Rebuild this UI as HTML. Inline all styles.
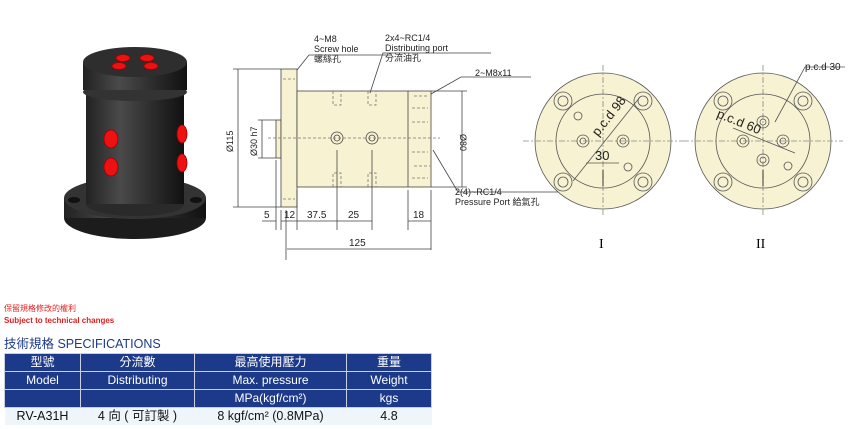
<!DOCTYPE html>
<html><head><meta charset="utf-8"><style>
body{margin:0;width:860px;height:429px;background:#fff;overflow:hidden;position:relative;font-family:"Liberation Sans","Noto Sans CJK TC",sans-serif}
svg{position:absolute;left:0;top:0}
.t{position:absolute;white-space:nowrap}
table{position:absolute;left:4px;top:353px;border-collapse:collapse;font-size:12px}
td{text-align:center;padding:0;height:17px;line-height:17px}
tr.h td{background:#1d3a8a;color:#fff;border:1px solid #c8cfe0}
tr.d td{background:#eef5fb;color:#111;font-size:12.5px}
</style></head><body>
<svg width="860" height="429" viewBox="0 0 860 429" font-family="Liberation Sans, Noto Sans CJK TC, sans-serif">
<defs>
<linearGradient id="cyl" x1="0" x2="1"><stop offset="0" stop-color="#222"/><stop offset=".35" stop-color="#4a4a4a"/><stop offset=".7" stop-color="#2a2a2a"/><stop offset="1" stop-color="#111"/></linearGradient>
</defs>
<!-- photo -->
<ellipse cx="135" cy="218" rx="71" ry="21" fill="#1c1c1c"/>
<rect x="64" y="198" width="142" height="20" fill="url(#cyl)"/>
<ellipse cx="135" cy="198" rx="71" ry="21" fill="#333"/>
<ellipse cx="74" cy="200" rx="6" ry="3" fill="#111"/><ellipse cx="196" cy="200" rx="6" ry="3" fill="#111"/>
<ellipse cx="135" cy="204" rx="49" ry="12" fill="#2a2a2a"/>
<rect x="86" y="92" width="98" height="112" fill="url(#cyl)"/>
<ellipse cx="135" cy="92" rx="52" ry="9" fill="#333"/>
<rect x="83" y="62" width="104" height="28" fill="url(#cyl)"/>
<ellipse cx="135" cy="62" rx="52" ry="15" fill="#2e2e2e"/>
<g fill="#e11" stroke="#900" stroke-width=".8">
<ellipse cx="123" cy="58" rx="7" ry="3.5"/><ellipse cx="147" cy="58" rx="7" ry="3.5"/><ellipse cx="119" cy="66" rx="7" ry="3.5"/><ellipse cx="151" cy="66" rx="7" ry="3.5"/>
<ellipse cx="111" cy="139" rx="7" ry="9"/><ellipse cx="111" cy="167" rx="7" ry="9"/><ellipse cx="182" cy="134" rx="5" ry="9"/><ellipse cx="182" cy="163" rx="5" ry="9"/>
</g>
<!-- side view -->
<g stroke="#444" stroke-width=".8" fill="none">
<rect x="276" y="120" width="5" height="38" fill="#f7f2d2"/>
<rect x="281" y="69" width="16" height="138" fill="#f7f2d2"/>
<rect x="297" y="91" width="134" height="96" fill="#f7f2d2"/>
<line x1="408" y1="91" x2="408" y2="187"/>
<circle cx="337" cy="138" r="6"/><circle cx="337" cy="138" r="3"/>
<circle cx="372" cy="138" r="6"/><circle cx="372" cy="138" r="3"/>
<g stroke-dasharray="3,2" stroke="#777">
<line x1="268" y1="138" x2="440" y2="138"/>
<path d="M333 91v14h8v-14M368 91v14h8v-14M333 187v-14h8v14M368 187v-14h8v14"/>
<path d="M414 96h14M412 108h16M412 122h16M412 152h16M414 166h16M412 178h16"/>
<path d="M283 79h12M283 199h12"/>
</g>
<path d="M238 69v138M233 69h48M233 207h48M262 120v38M258 120h18M258 158h18M462 91v96M431 91h36M431 187h36"/>
<path d="M276 160v70M281 210v20M297 190v40M337 150v80M372 150v80M408 190v40M431 190v60M286 210v50"/>
<path d="M262 221h14M281 221h16M297 221h40M337 221h35M408 221h23M287 249h144"/>
<path d="M297 70l12-15h82M370 93l13-40h108M431 94l30-17h70M433 150l25 42h100"/>
</g>
<g font-size="9" fill="#222">
<text x="314" y="42">4~M8</text><text x="314" y="52">Screw hole</text><text x="314" y="62">螺絲孔</text>
<text x="385" y="41">2x4~RC1/4</text><text x="385" y="51">Distributing port</text><text x="385" y="61">分流油孔</text>
<text x="475" y="76">2~M8x11</text>
<text x="455" y="195">2(4)~RC1/4</text><text x="455" y="205">Pressure Port  給氣孔</text>
<text transform="translate(233,152) rotate(-90)">Ø115</text>
<text transform="translate(257,156) rotate(-90)">Ø30 h7</text>
<text transform="translate(460,134) rotate(90)">Ø80</text>
<text x="264" y="218" font-size="10">5</text><text x="284" y="218" font-size="10">12</text>
<text x="307" y="218" font-size="10">37.5</text><text x="348" y="218" font-size="10">25</text>
<text x="413" y="218" font-size="10">18</text><text x="349" y="246" font-size="10">125</text>
</g>
<g stroke="#555" stroke-width=".8" fill="none">
<circle cx="603" cy="141" r="68" fill="#f7f2d2"/>
<circle cx="603" cy="141" r="47"/>
<circle cx="763" cy="141" r="68" fill="#f7f2d2"/>
<circle cx="763" cy="141" r="47"/>
<g stroke-dasharray="6,2,2,2" stroke="#888">
<path d="M523 141h160M603 65v150M683 141h160M763 65v150"/>
</g>
<g id="h">
<circle cx="563" cy="101" r="9"/><circle cx="563" cy="101" r="5"/>
<circle cx="643" cy="101" r="9"/><circle cx="643" cy="101" r="5"/>
<circle cx="563" cy="182" r="9"/><circle cx="563" cy="182" r="5"/>
<circle cx="643" cy="182" r="9"/><circle cx="643" cy="182" r="5"/>
</g>
<use href="#h" x="160"/>
<circle cx="583" cy="141" r="6"/><circle cx="583" cy="141" r="3"/>
<circle cx="623" cy="141" r="6"/><circle cx="623" cy="141" r="3"/>
<circle cx="578" cy="116" r="4"/><circle cx="628" cy="167" r="4"/>
<path d="M573 181L640 97M586 163h33"/>
<circle cx="763" cy="122" r="6"/><circle cx="763" cy="122" r="3"/>
<circle cx="763" cy="160" r="6"/><circle cx="763" cy="160" r="3"/>
<circle cx="743" cy="141" r="6"/><circle cx="743" cy="141" r="3"/>
<circle cx="783" cy="141" r="6"/><circle cx="783" cy="141" r="3"/>
<circle cx="788" cy="166" r="4"/>
<path d="M733 128l62 25M775 122l30-55h40"/>
<path d="M603 170v16M763 170v16" stroke="#111"/>
</g>
<text transform="translate(598,137) rotate(-52)" font-size="13" fill="#222">p.c.d 98</text>
<text x="595" y="160" font-size="13" fill="#222">30</text>
<text transform="translate(716,117) rotate(22)" font-size="13" fill="#222">p.c.d 60</text>
<text x="805" y="70" font-size="10" fill="#222">p.c.d 30</text>
<text x="599" y="248" font-size="14" font-family="Liberation Serif,serif">I</text>
<text x="756" y="248" font-size="14" font-family="Liberation Serif,serif">II</text>
</svg>
<div class="t" style="left:4px;top:303px;font-size:8px;color:#e02020">保留規格修改的權利</div>
<div class="t" style="left:4px;top:316px;font-size:8px;color:#e02020;font-weight:bold">Subject to technical changes</div>
<div class="t" style="left:4px;top:333px;font-size:12.5px;color:#1d3a8a">技術規格 SPECIFICATIONS</div>
<table>
<tr class="h"><td style="width:75px">型號</td><td style="width:113px">分流數</td><td style="width:151px">最高使用壓力</td><td style="width:84px">重量</td></tr>
<tr class="h"><td>Model</td><td>Distributing</td><td>Max. pressure</td><td>Weight</td></tr>
<tr class="h"><td></td><td></td><td>MPa(kgf/cm²)</td><td>kgs</td></tr>
<tr class="d"><td>RV-A31H</td><td>4 向 ( 可訂製 )</td><td>8 kgf/cm² (0.8MPa)</td><td>4.8</td></tr>
</table>
</body></html>
